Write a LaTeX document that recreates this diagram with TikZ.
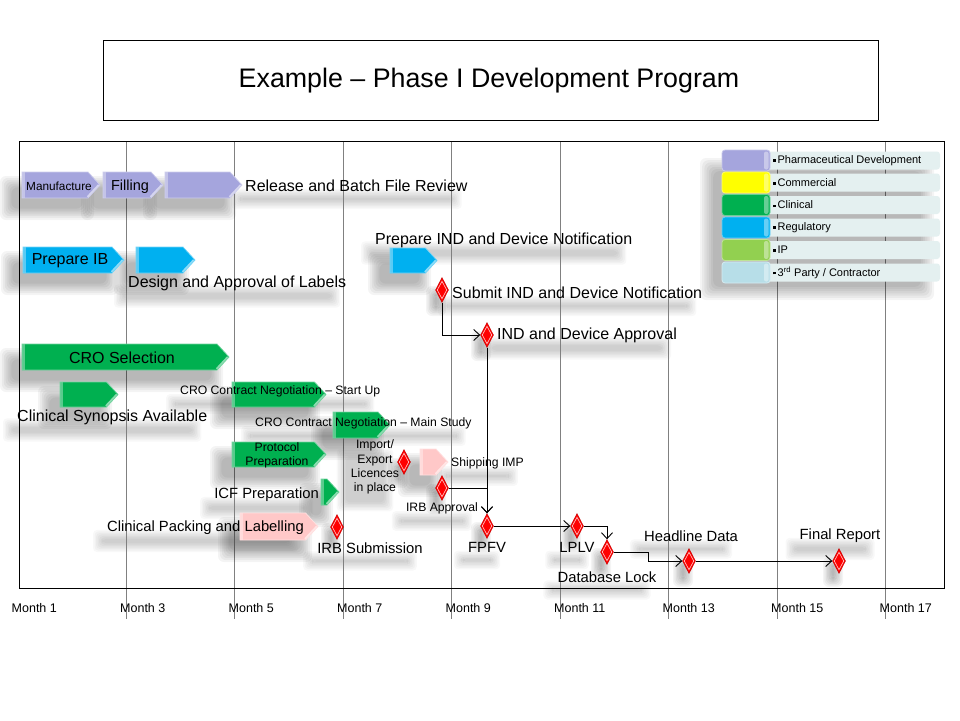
\documentclass[tikz,border=0pt]{standalone}
\usepackage{fontspec}
\setmainfont{Liberation Sans}
\usetikzlibrary{shapes.geometric,arrows.meta,calc}

\definecolor{lav}{RGB}{165,165,221}
\definecolor{grn}{RGB}{0,176,80}
\definecolor{cyn}{RGB}{0,176,240}
\definecolor{pnk}{RGB}{255,200,200}
\definecolor{ylw}{RGB}{255,255,0}
\definecolor{lgr}{RGB}{146,208,80}
\definecolor{lbb}{RGB}{183,222,232}
\definecolor{band}{RGB}{228,240,240}
\definecolor{gridc}{RGB}{128,128,128}

\pgfdeclarelayer{back}
\pgfdeclarelayer{bg}
\pgfsetlayers{back,bg,main}

\tikzset{
 gridline/.style={gridc, line width=0.9pt},
 frameline/.style={black, line width=1pt},
 biglbl/.style={inner sep=0, font=\fontsize{16}{18}\selectfont},
 midlbl/.style={inner sep=0, font=\fontsize{14.8}{16}\selectfont},
 smllbl/.style={inner sep=0, font=\fontsize{12.2}{14.3}\selectfont, align=center},
 monthlbl/.style={inner sep=0, anchor=west, font=\fontsize{12.5}{14}\selectfont},
 legtxt/.style={inner sep=0, anchor=west, font=\fontsize{11}{12}\selectfont},
 ms/.style={diamond, aspect=0.5, minimum width=13pt, minimum height=25pt, inner sep=0,
   fill=red, draw=red!75!black, line width=0.4pt},
 conn/.style={black, line width=0.9pt, -{Straight Barb[length=6pt,width=11pt]}},
 shadlayer/.style={black, opacity=0.045},
 txtshadlayer/.style={black, opacity=0.028},
}

% soft shadow: x1, y1, x2, y2 (outer extent), step
\newcommand\softshadow[5]{%
 \foreach \s in {0,...,6} {
   \fill[shadlayer, rounded corners=6pt] ({#1+#5*\s},{#2+#5*\s}) rectangle ({#3-#5*\s},{#4-#5*\s});
 }%
}
% chevron: name, x1, x2, ytop, ybot, colour
\newcommand\chev[6]{%
 \pgfmathsetmacro\chvtip{#3-0.46*(#5-#4)}%
 \pgfmathsetmacro\chvmid{(#4+#5)/2}%
 \fill[#6] (#2,#4) -- (\chvtip,#4) -- (#3,\chvmid) -- (\chvtip,#5) -- (#2,#5) -- cycle;
 \fill[white, opacity=.35] (#2,#4) rectangle ({#2+2.5},#5);
 \draw[white, opacity=.55, line width=2pt] ({#3-1.2},\chvmid) -- ({\chvtip-0.5},{#5-1});
 \draw[#6!55!white, line width=.7pt] (#2,#4) -- (\chvtip,#4) -- (#3,\chvmid) -- (\chvtip,#5) -- (#2,#5) -- cycle;
 \coordinate (#1) at ({(#2+#3)/2},\chvmid);
}
\newcommand\chevshadow[4]{% x1 x2 ytop ybot
 \softshadow{#1-22}{#3+4}{#2-6}{#4+22}{1.9}%
}
% milestone diamond: name, x, y
\newcommand\mstone[3]{%
 \node[ms] (#1) at (#2,#3) {};
 \draw[white, opacity=.8, line width=.6pt] ($(#1.north)+(0,4)$) -- ($(#1.east)+(-2,0)$) -- ($(#1.south)+(0,-4)$) -- ($(#1.west)+(2,0)$) -- cycle;
}
% legend entry: name, y centre, colour, text
\newcommand\legrow[4]{%
 \fill[band, rounded corners=3pt] (766,{#2-9}) rectangle (940,{#2+9});
 \path[fill=#3, draw=#3!60!white, line width=.8pt, rounded corners=3pt] (722,{#2-10.5}) rectangle (770,{#2+10.5});
 \fill[white, opacity=.4, rounded corners=2pt] (764,{#2-9}) rectangle (768.5,{#2+9});
 \node[legtxt] (#1) at (773,#2) {\rule[0.3ex]{2.6pt}{2.6pt}\,#4};
}

\begin{document}
\begin{tikzpicture}[x=1pt,y=-1pt]
\useasboundingbox (0,0) rectangle (960,720);
\begin{pgfonlayer}{back}
\fill[white] (0,0) rectangle (960,720);
\end{pgfonlayer}

% title
\node[draw=black, line width=1pt, minimum width=775pt, minimum height=80pt, inner sep=0] (title) at (490.5,80) {};
\node[inner sep=0, font=\fontsize{26.8}{30}\selectfont] (titletext) at (489,81) {Example -- Phase I Development Program};

% grid lines
\foreach \i in {1,...,8} {
  \draw[gridline] ({17.5+108.5*\i},141) -- ({17.5+108.5*\i},619);
}
% frame
\draw[frameline] (19,141) rectangle (944,588);

% month labels
\foreach \m [count=\k from 0] in {1,3,5,7,9,11,13,15,17} {
  \node[monthlbl] (mon\m) at ({11.5+108.5*\k},608) {Month \m};
}

% shadows
\softshadow{700}{158}{934}{300}{2.2}
\chevshadow{22}{100}{172}{198}
\chevshadow{103}{163}{172}{198}
\chevshadow{165}{242}{172}{198}
\chevshadow{23}{124}{247}{273}
\chevshadow{136}{195}{247}{273}
\chevshadow{390}{437}{248}{273}
\chevshadow{22}{229}{344}{370}
\chevshadow{60}{118}{382}{407}
\chevshadow{232}{326}{382}{407}
\chevshadow{333}{390}{412}{438}
\chevshadow{232}{326}{442}{467}
\chevshadow{321}{339}{479}{505}
\chevshadow{240}{318}{513}{540}
\chevshadow{420}{448}{449}{475}
\foreach \dx/\dy in {442/290,487/335,337/527,404/462,442/488,487/526,577/526,607/552,689/561,839/561} {
  \softshadow{\dx-16}{\dy-4}{\dx+4}{\dy+26}{1.4}
}

% legend
\legrow{lg1}{160.5}{lav}{Pharmaceutical Development}
\legrow{lg2}{182.5}{ylw}{Commercial}
\legrow{lg3}{205}{grn}{Clinical}
\legrow{lg4}{227.5}{cyn}{Regulatory}
\legrow{lg5}{250}{lgr}{IP}
\legrow{lg6}{272.5}{lbb}{3\textsuperscript{rd} Party / Contractor}

% chevrons
\chev{man}{22}{100}{172}{198}{lav}
\chev{fil}{103}{163}{172}{198}{lav}
\chev{rel}{165}{242}{172}{198}{lav}
\chev{pib}{23}{124}{247}{273}{cyn}
\chev{des}{136}{195}{247}{273}{cyn}
\chev{pind}{390}{437}{248}{273}{cyn}
\chev{cro}{22}{229}{344}{370}{grn}
\chev{syn}{60}{118}{382}{407}{grn}
\chev{cstart}{232}{326}{382}{407}{grn}
\chev{cmain}{333}{390}{412}{438}{grn}
\chev{prot}{232}{326}{442}{467}{grn}
\chev{icf}{321}{339}{479}{505}{grn}
\chev{cpl}{240}{318}{513}{540}{pnk}
\chev{ship}{420}{448}{449}{475}{pnk}

% milestones
\mstone{submit}{442}{290}
\mstone{appr}{487}{335}
\mstone{irbsub}{337}{527}
\mstone{imp}{404}{462}
\mstone{irbapp}{442}{488}
\mstone{fpfv}{487}{526}
\mstone{lplv}{577}{526}
\mstone{dbl}{607}{552}
\mstone{head}{689}{561}
\mstone{final}{839}{561}

% connectors
\draw[conn] (submit.south) |- (appr.west);
\draw[conn] (appr.south) -- (fpfv.north);
\draw[conn] (irbapp.east) -| (fpfv.north);
\draw[conn] (fpfv.east) -- (lplv.west);
\draw[conn] (lplv.east) -| (dbl.north);
\coordinate (dhmid) at ($(dbl.east)!.5!(head.west)$);
\draw[conn] (dbl.east) -| (dhmid) |- (head.west);
\draw[conn] (head.east) -- (final.west);

% labels
\node[inner sep=0, font=\fontsize{11.8}{13}\selectfont] (tman) at (59,186) {Manufacture};
\node[inner sep=0, font=\fontsize{14.5}{16}\selectfont] (tfil) at (130,186.5) {Filling};
\node[biglbl, anchor=west] (trel) at (245,186) {Release and Batch File Review};
\node[biglbl] (tpib) at (70,261) {Prepare IB};
\node[biglbl, anchor=west] (tdes) at (128,283) {Design and Approval of Labels};
\node[biglbl, anchor=west] (tpind) at (375,240) {Prepare IND and Device Notification};
\node[biglbl, anchor=west] (tsub) at (452,293) {Submit IND and Device Notification};
\node[biglbl, anchor=west] (tappr) at (497,335) {IND and Device Approval};
\node[biglbl] (tcro) at (122,358) {CRO Selection};
\node[biglbl, anchor=west] (tsyn) at (17,417) {Clinical Synopsis Available};
\node[smllbl, anchor=west] (tcstart) at (180,391) {CRO Contract Negotiation -- Start Up};
\node[smllbl, anchor=west] (tcmain) at (255,423) {CRO Contract Negotiation -- Main Study};
\node[smllbl] (tprot) at (277,455) {Protocol\\Preparation};
\node[midlbl, anchor=east] (ticf) at (319,495) {ICF Preparation};
\node[midlbl, anchor=west] (tcpl) at (107,528) {Clinical Packing and Labelling};
\node[midlbl] (tirbsub) at (370,548) {IRB Submission};
\node[smllbl] (timp) at (375,467) {Import/\\Export\\Licences\\in place};
\node[smllbl, anchor=west] (tship) at (451,463) {Shipping IMP};
\node[smllbl] (tirbapp) at (442,508) {IRB Approval};
\node[midlbl] (tfpfv) at (487,547) {FPFV};
\node[midlbl] (tlplv) at (577,547) {LPLV};
\node[midlbl] (tdbl) at (607,577) {Database Lock};
\node[midlbl] (thead) at (691,536) {Headline Data};
\node[midlbl] (tfinal) at (840,536) {Final Report};

% faint text shadows
\begin{pgfonlayer}{bg}
\foreach \n in {trel,tdes,tpind,tsub,tappr,tsyn,tcstart,tcmain,ticf,tcpl,tirbsub,timp,tship,tirbapp,tfpfv,tlplv,tdbl,thead,tfinal} {
  \foreach \s in {0,...,6} {
    \fill[txtshadlayer, rounded corners=4pt] ($(\n.north west)+({-14+1.5*\s},{9+1.5*\s})$) rectangle ($(\n.south east)+({-6-1.5*\s},{17-1.5*\s})$);
  }
}
\end{pgfonlayer}
\end{tikzpicture}
\end{document}
